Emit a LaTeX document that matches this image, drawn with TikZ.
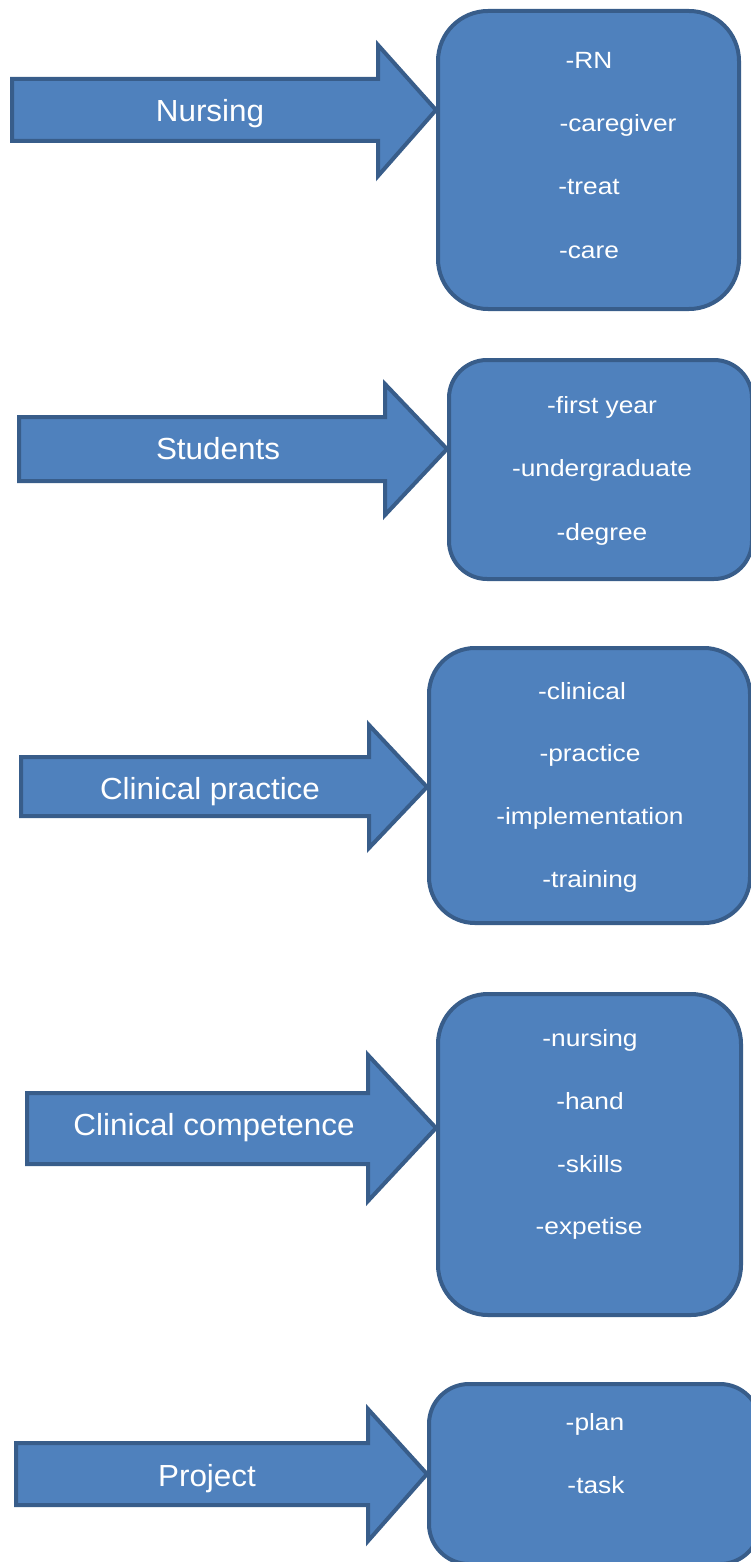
\documentclass[tikz,border=0pt]{standalone}
\usepackage{fontspec}
\setmainfont{Liberation Sans}
\newfontfamily\itemfont{Liberation Sans}[FakeStretch=1.12]
\newfontfamily\labelfont{Liberation Sans}[FakeStretch=1.03]
\definecolor{shapefill}{HTML}{4F81BD}
\definecolor{shapeline}{HTML}{385D8A}
\begin{document}
\begin{tikzpicture}[x=1pt,y=-1pt,
  shapebase/.style={fill=shapefill,draw=shapeline,line width=4pt,line join=miter},
  itembox/.style={shapebase,rectangle,inner sep=0pt},
  biglabel/.style={text=white,font=\labelfont\fontsize{30.5}{36}\selectfont,inner sep=0pt,anchor=base},
  item/.style={text=white,font=\itemfont\fontsize{23.5}{28}\selectfont,inner sep=0pt,anchor=base}]
\useasboundingbox (0,0) rectangle (751,1562);
\clip (0,0) rectangle (751,1562);

% ---- Row 1: Nursing ----
\node[itembox,minimum width=301pt,minimum height=298pt,rounded corners=50pt] (box1) at (588.5,160) {};
\coordinate (tip1) at (box1.west |- 0,110);
\draw[shapebase] (12,79) -- (378,79) -- (378,45) -- (tip1) -- (378,176) -- (378,141) -- (12,141) -- cycle;
\node[biglabel] (lab1) at (210,121.7) {Nursing};
\node[item] (i11) at (589,68.3) {-RN};
\node[item] (i12) at (618,131.7) {-caregiver};
\node[item] (i13) at (589,195) {-treat};
\node[item] (i14) at (589,258.3) {-care};

% ---- Row 2: Students ----
\node[itembox,minimum width=303pt,minimum height=219pt,rounded corners=38pt] (box2) at (600.5,469.5) {};
\coordinate (tip2) at (box2.west |- 0,449);
\draw[shapebase] (19,417) -- (385,417) -- (385,384) -- (tip2) -- (385,515) -- (385,481) -- (19,481) -- cycle;
\node[biglabel] (lab2) at (218,459.7) {Students};
\node[item] (i21) at (602,413.3) {-first year};
\node[item] (i22) at (602,476.7) {-undergraduate};
\node[item] (i23) at (602,540) {-degree};

% ---- Row 3: Clinical practice ----
\node[itembox,minimum width=321pt,minimum height=275pt,rounded corners=46pt] (box3) at (589.5,785.5) {};
\coordinate (tip3) at (box3.west |- 0,787);
\draw[shapebase] (21,757) -- (369,757) -- (369,725) -- (tip3) -- (369,848) -- (369,816) -- (21,816) -- cycle;
\node[biglabel] (lab3) at (210,799.7) {Clinical practice};
\node[item] (i31) at (582,699.3) {-clinical};
\node[item] (i32) at (590,761.3) {-practice};
\node[item] (i33) at (590,824.3) {-implementation};
\node[item] (i34) at (590,887.3) {-training};

% ---- Row 4: Clinical competence ----
\node[itembox,minimum width=303pt,minimum height=321pt,rounded corners=50pt] (box4) at (589.5,1154.5) {};
\coordinate (tip4) at (box4.west |- 0,1128);
\draw[shapebase] (27,1093) -- (368,1093) -- (368,1055) -- (tip4) -- (368,1201) -- (368,1164) -- (27,1164) -- cycle;
\node[biglabel] (lab4) at (214,1135.7) {Clinical competence};
\node[item] (i41) at (590,1046.3) {-nursing};
\node[item] (i42) at (590,1109.3) {-hand};
\node[item] (i43) at (590,1172.3) {-skills};
\node[item] (i44) at (589,1234.3) {-expetise};

% ---- Row 5: Project ----
\node[itembox,minimum width=331pt,minimum height=180pt,rounded corners=40pt] (box5) at (594.5,1474) {};
\coordinate (tip5) at (box5.west |- 0,1474);
\draw[shapebase] (16,1443) -- (368,1443) -- (368,1409) -- (tip5) -- (368,1541) -- (368,1505) -- (16,1505) -- cycle;
\node[biglabel] (lab5) at (207,1486.7) {Project};
\node[item] (i51) at (595,1430.3) {-plan};
\node[item] (i52) at (596,1493.3) {-task};
\end{tikzpicture}
\end{document}
